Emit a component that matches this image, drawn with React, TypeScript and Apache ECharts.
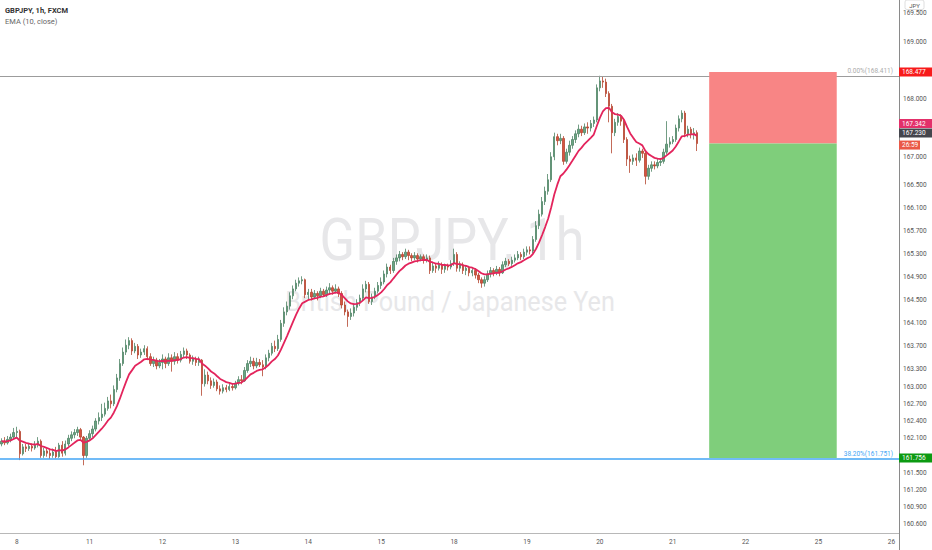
import React, { useEffect, useRef } from "react";
import * as echarts from "echarts";

// ---- hourly candles [open, close, low, high] ----
const day7 = [
  [162.0, 162.05, 161.96, 162.1], [162.05, 162.02, 161.98, 162.12], [162.02, 162.08, 161.99, 162.14],
  [162.08, 162.12, 162.03, 162.18], [162.12, 162.2, 162.08, 162.28],
];
const day8 = [
  [162.2, 162.22, 162.12, 162.3], [162.22, 161.83, 161.72, 162.25], [161.83, 161.95, 161.8, 162.0],
  [161.95, 161.92, 161.86, 162.0], [161.92, 161.96, 161.88, 162.02], [161.96, 161.93, 161.87, 162.01],
  [161.93, 161.98, 161.9, 162.05], [161.98, 162.05, 161.94, 162.12], [162.05, 161.8, 161.76, 162.08],
  [161.8, 161.88, 161.76, 161.93], [161.88, 161.84, 161.78, 161.92], [161.84, 161.8, 161.74, 161.9],
  [161.8, 161.86, 161.76, 161.92], [161.86, 161.78, 161.75, 161.95], [161.78, 161.98, 161.76, 162.02],
  [161.98, 161.84, 161.78, 162.05], [161.84, 162.0, 161.8, 162.06], [162.0, 162.1, 161.96, 162.16],
  [162.1, 162.16, 162.05, 162.22], [162.16, 162.2, 162.1, 162.26], [162.2, 162.25, 162.14, 162.3],
  [162.25, 162.12, 162.08, 162.28], [162.12, 161.8, 161.63, 162.14], [161.8, 162.1, 161.76, 162.14],
];
const day11 = [
  [162.1, 162.18, 162.05, 162.24], [162.18, 162.26, 162.12, 162.32], [162.26, 162.4, 162.22, 162.45],
  [162.4, 162.46, 162.34, 162.55], [162.46, 162.52, 162.4, 162.7], [162.52, 162.62, 162.48, 162.72],
  [162.62, 162.75, 162.58, 162.82], [162.75, 162.7, 162.62, 162.86], [162.7, 162.95, 162.66, 163.02],
  [162.95, 163.15, 162.9, 163.22], [163.15, 163.4, 163.1, 163.48], [163.4, 163.6, 163.36, 163.68],
  [163.6, 163.72, 163.55, 163.82], [163.72, 163.8, 163.65, 163.86], [163.8, 163.62, 163.55, 163.84],
  [163.62, 163.7, 163.58, 163.76], [163.7, 163.55, 163.48, 163.74], [163.55, 163.6, 163.5, 163.66],
  [163.6, 163.66, 163.55, 163.72], [163.66, 163.52, 163.46, 163.7], [163.52, 163.4, 163.36, 163.58],
  [163.4, 163.46, 163.34, 163.52], [163.46, 163.36, 163.3, 163.5], [163.36, 163.42, 163.32, 163.48],
];
const day12 = [
  [163.42, 163.48, 163.3, 163.56], [163.48, 163.4, 163.32, 163.52], [163.4, 163.5, 163.36, 163.58],
  [163.5, 163.44, 163.26, 163.56], [163.44, 163.52, 163.38, 163.6], [163.52, 163.46, 163.4, 163.58],
  [163.46, 163.56, 163.42, 163.62], [163.56, 163.62, 163.5, 163.68], [163.62, 163.55, 163.48, 163.66],
  [163.55, 163.44, 163.4, 163.58], [163.44, 163.48, 163.38, 163.54], [163.48, 163.42, 163.36, 163.52],
  [163.42, 163.46, 163.36, 163.52], [163.46, 163.05, 162.84, 163.48], [163.05, 163.2, 163.0, 163.3],
  [163.2, 163.1, 163.04, 163.26], [163.1, 163.02, 162.96, 163.16], [163.02, 163.08, 162.98, 163.14],
  [163.08, 162.96, 162.92, 163.12], [162.96, 162.92, 162.86, 163.02], [162.92, 162.98, 162.88, 163.04],
  [162.98, 162.95, 162.9, 163.03], [162.95, 163.0, 162.92, 163.06], [163.0, 162.98, 162.93, 163.05],
];
const day13 = [
  [162.98, 163.06, 162.95, 163.1], [163.06, 163.12, 163.02, 163.18], [163.12, 163.1, 163.04, 163.2],
  [163.1, 163.28, 163.08, 163.34], [163.28, 163.4, 163.24, 163.46], [163.4, 163.44, 163.34, 163.52],
  [163.44, 163.36, 163.3, 163.5], [163.36, 163.42, 163.32, 163.5], [163.42, 163.38, 163.34, 163.48],
  [163.38, 163.34, 163.18, 163.46], [163.34, 163.5, 163.3, 163.56], [163.5, 163.58, 163.44, 163.64],
  [163.58, 163.7, 163.54, 163.76], [163.7, 163.66, 163.6, 163.8], [163.66, 163.82, 163.62, 163.9],
  [163.82, 164.1, 163.78, 164.16], [164.1, 164.3, 164.04, 164.38], [164.3, 164.4, 164.24, 164.48],
  [164.4, 164.58, 164.34, 164.64], [164.58, 164.7, 164.52, 164.76], [164.7, 164.8, 164.66, 164.86],
  [164.8, 164.84, 164.74, 164.9], [164.84, 164.86, 164.78, 164.92], [164.86, 164.6, 164.54, 164.88],
];
const day14 = [
  [164.6, 164.64, 164.5, 164.7], [164.64, 164.56, 164.5, 164.7], [164.56, 164.62, 164.52, 164.68],
  [164.62, 164.58, 164.5, 164.66], [164.58, 164.66, 164.54, 164.72], [164.66, 164.6, 164.56, 164.7],
  [164.6, 164.68, 164.56, 164.74], [164.68, 164.72, 164.6, 164.8], [164.72, 164.66, 164.6, 164.76],
  [164.66, 164.7, 164.62, 164.78], [164.7, 164.62, 164.56, 164.74], [164.62, 164.42, 164.36, 164.66],
  [164.42, 164.3, 164.24, 164.48], [164.3, 164.22, 164.04, 164.34], [164.22, 164.28, 164.16, 164.36],
  [164.28, 164.38, 164.22, 164.44], [164.38, 164.46, 164.32, 164.52], [164.46, 164.54, 164.4, 164.6],
  [164.54, 164.7, 164.5, 164.78], [164.7, 164.78, 164.64, 164.84], [164.78, 164.48, 164.44, 164.82],
  [164.48, 164.56, 164.42, 164.62], [164.56, 164.66, 164.52, 164.72], [164.66, 164.76, 164.62, 164.82],
];
const day15 = [
  [164.76, 164.82, 164.7, 164.9], [164.82, 164.96, 164.78, 165.02], [164.96, 165.08, 164.9, 165.14],
  [165.08, 165.02, 164.96, 165.12], [165.02, 165.18, 164.98, 165.24], [165.18, 165.24, 165.12, 165.3],
  [165.24, 165.3, 165.18, 165.36], [165.3, 165.26, 165.2, 165.34], [165.26, 165.34, 165.22, 165.4],
  [165.34, 165.28, 165.2, 165.38], [165.28, 165.24, 165.18, 165.32], [165.24, 165.28, 165.2, 165.34],
  [165.28, 165.22, 165.16, 165.32], [165.22, 165.26, 165.18, 165.3], [165.26, 165.2, 165.14, 165.3],
  [165.2, 165.24, 165.16, 165.3], [165.24, 165.02, 164.96, 165.28], [165.02, 165.1, 164.98, 165.16],
  [165.1, 165.06, 164.98, 165.14], [165.06, 165.12, 165.02, 165.18], [165.12, 165.04, 164.96, 165.16],
  [165.04, 165.1, 164.98, 165.14], [165.1, 165.08, 165.02, 165.14], [165.08, 165.14, 165.04, 165.2],
];
const day18 = [
  [165.14, 165.3, 165.1, 165.4], [165.3, 165.06, 165.0, 165.34], [165.06, 165.12, 165.0, 165.18],
  [165.12, 165.02, 164.96, 165.16], [165.02, 165.06, 164.94, 165.1], [165.06, 164.98, 164.92, 165.1],
  [164.98, 165.02, 164.92, 165.06], [165.02, 164.94, 164.88, 165.06], [164.94, 164.86, 164.8, 164.98],
  [164.86, 164.8, 164.72, 164.9], [164.8, 164.86, 164.74, 164.92], [164.86, 164.96, 164.82, 165.02],
  [164.96, 165.02, 164.9, 165.08], [165.02, 164.98, 164.92, 165.06], [164.98, 165.04, 164.94, 165.1],
  [165.04, 164.98, 164.92, 165.08], [164.98, 165.12, 164.96, 165.18], [165.12, 165.18, 165.08, 165.24],
  [165.18, 165.14, 165.1, 165.22], [165.14, 165.2, 165.1, 165.26], [165.2, 165.24, 165.16, 165.3],
  [165.24, 165.3, 165.2, 165.36], [165.3, 165.26, 165.2, 165.34], [165.26, 165.34, 165.22, 165.4],
];
const day19 = [
  [165.34, 165.38, 165.28, 165.44], [165.38, 165.36, 165.3, 165.44], [165.36, 165.56, 165.32, 165.62],
  [165.56, 165.8, 165.52, 165.88], [165.8, 166.0, 165.74, 166.08], [166.0, 166.22, 165.96, 166.3],
  [166.22, 166.4, 166.16, 166.48], [166.4, 166.6, 166.34, 166.7], [166.6, 167.0, 166.56, 167.08],
  [167.0, 167.35, 166.94, 167.42], [167.35, 167.28, 167.2, 167.4], [167.28, 167.32, 167.22, 167.4],
  [167.32, 166.92, 166.86, 167.36], [166.92, 167.08, 166.88, 167.14], [167.08, 167.2, 167.02, 167.28],
  [167.2, 167.3, 167.14, 167.36], [167.3, 167.4, 167.24, 167.46], [167.4, 167.48, 167.34, 167.56],
  [167.48, 167.42, 167.36, 167.54], [167.42, 167.52, 167.38, 167.58], [167.52, 167.5, 167.4, 167.6],
  [167.5, 167.58, 167.44, 167.64], [167.58, 167.64, 167.52, 167.7], [167.64, 168.2, 167.6, 168.26],
];
const day20 = [
  [168.2, 168.32, 168.14, 168.41], [168.32, 168.3, 168.2, 168.4], [168.3, 168.1, 168.04, 168.36],
  [168.1, 167.88, 167.6, 168.14], [167.88, 167.42, 167.06, 167.92], [167.42, 167.6, 167.36, 167.66],
  [167.6, 167.7, 167.54, 167.76], [167.7, 167.62, 167.54, 167.74], [167.62, 167.3, 167.24, 167.66],
  [167.3, 166.96, 166.84, 167.34], [166.96, 166.92, 166.72, 167.02], [166.92, 166.98, 166.86, 167.04],
  [166.98, 166.94, 166.84, 167.06], [166.94, 167.1, 166.9, 167.16], [167.1, 167.06, 166.98, 167.14],
  [167.06, 166.66, 166.52, 167.1], [166.66, 166.8, 166.6, 166.86], [166.8, 166.86, 166.74, 166.92],
  [166.86, 166.84, 166.78, 166.92], [166.84, 166.9, 166.8, 166.96], [166.9, 166.92, 166.84, 166.98],
  [166.92, 167.08, 166.88, 167.14], [167.08, 167.22, 167.04, 167.62], [167.22, 167.26, 167.16, 167.34],
];
const day21 = [
  [167.26, 167.3, 167.22, 167.36], [167.3, 167.5, 167.26, 167.56], [167.5, 167.66, 167.44, 167.72],
  [167.66, 167.76, 167.6, 167.81], [167.76, 167.4, 167.34, 167.8], [167.4, 167.48, 167.34, 167.54],
  [167.48, 167.4, 167.32, 167.52], [167.4, 167.42, 167.3, 167.5], [167.42, 167.23, 167.1, 167.46],
];

// ---- time axis ----
const leadHours = ["7 19:00", "7 20:00", "7 21:00", "7 22:00", "7 23:00"];
const axisDays = [8, 11, 12, 13, 14, 15, 18, 19, 20, 21, 22, 25];
const tailDay = 26;
const tailHours = 3;

// ---- price axis ----
const priceTicks = [169.5, 169.0, 168.0, 167.0, 166.5, 166.1, 165.7, 165.3, 164.9, 164.5, 164.1, 163.7, 163.3, 163.0, 162.7, 162.4, 162.1, 161.5, 161.2, 160.9, 160.6];
const priceMin = 160.451;
const priceMax = 169.729;

// ---- drawings ----
const fibZero = 168.411;
const fib382 = 161.751;
const stopLoss = 168.477;
const entryPrice = 167.23;
const targetPrice = 161.756;
const positionStart = "21 12:00";
const positionEnd = "25 06:00";
const emaLabel = 167.342;
const countdown = "26:59";
const emaPeriod = 10;

const FONT = "Roboto, 'Liberation Sans', sans-serif";

export default function App() {
  const ref = useRef<HTMLDivElement>(null);

  useEffect(() => {
    if (!ref.current) return;
    const chart = echarts.init(ref.current, null, { renderer: "svg" });

    const hh = (h: number) => String(h).padStart(2, "0") + ":00";
    const categories: string[] = [...leadHours];
    axisDays.forEach((d) => {
      for (let h = 0; h < 24; h++) categories.push(`${d} ${hh(h)}`);
    });
    for (let h = 0; h < tailHours; h++) categories.push(`${tailDay} ${hh(h)}`);

    const candles = [...day7, ...day8, ...day11, ...day12, ...day13, ...day14, ...day15, ...day18, ...day19, ...day20, ...day21];
    const k = 2 / (emaPeriod + 1);
    const ema: number[] = [];
    let prev = 0;
    candles.forEach((c, i) => {
      prev = i === 0 ? c[1] : prev + k * (c[1] - prev);
      ema.push(+prev.toFixed(4));
    });
    const lastClose = candles[candles.length - 1][1];

    const option: any = {
      animation: false,
      grid: { left: 0, right: 33, top: 0, bottom: 17 },
      xAxis: {
        type: "category",
        data: categories,
        boundaryGap: true,
        axisLine: { lineStyle: { color: "#b8b8b8" } },
        axisTick: { show: false },
        splitLine: { show: false },
        axisLabel: {
          interval: (_i: number, v: string) => v.endsWith(" 00:00"),
          formatter: (v: string) => v.split(" ")[0],
          fontSize: 6.5,
          color: "#555",
          margin: 5,
          fontFamily: FONT,
        },
      },
      yAxis: {
        type: "value",
        position: "right",
        min: priceMin,
        max: priceMax,
        axisLine: { show: true, lineStyle: { color: "#8a8a8a" } },
        axisTick: { show: false },
        splitLine: { show: false },
        axisLabel: {
          customValues: priceTicks,
          formatter: (v: number) => v.toFixed(3),
          fontSize: 6.5,
          color: "#555",
          margin: 4,
          fontFamily: FONT,
        },
      },
      series: [
        {
          type: "candlestick",
          data: candles,
          barWidth: "62%",
          z: 2,
          itemStyle: {
            color: "#6ba583",
            color0: "#d75442",
            borderColor: "#4f8466",
            borderColor0: "#b4452f",
            borderWidth: 0.8,
          },
          markLine: {
            silent: true,
            symbol: ["none", "none"],
            z: 4,
            data: [
              {
                yAxis: fibZero,
                lineStyle: { color: "#9c9c9c", width: 1, type: "solid" },
                label: {
                  position: "insideEndTop",
                  formatter: `0.00%(${fibZero.toFixed(3)})`,
                  color: "#ababab",
                  fontSize: 6.5,
                  fontFamily: FONT,
                  distance: [6, 1],
                },
              },
              {
                yAxis: fib382,
                lineStyle: { color: "#42a5f5", width: 1.6, type: "solid" },
                label: {
                  position: "insideEndTop",
                  formatter: `38.20%(${fib382.toFixed(3)})`,
                  color: "#42a5f5",
                  fontSize: 6.5,
                  fontFamily: FONT,
                  distance: [6, 1],
                },
              },
            ],
          },
          markArea: {
            silent: true,
            z: 6,
            data: [
              [
                { xAxis: positionStart, yAxis: stopLoss, itemStyle: { color: "#f88585", opacity: 1 } },
                { xAxis: positionEnd, yAxis: entryPrice },
              ],
              [
                { xAxis: positionStart, yAxis: entryPrice, itemStyle: { color: "#7fce7b", opacity: 1 } },
                { xAxis: positionEnd, yAxis: targetPrice },
              ],
            ],
          },
        },
        {
          type: "line",
          data: ema,
          symbol: "none",
          z: 3,
          lineStyle: { color: "#e3245c", width: 1.8 },
        },
      ],
    };
    chart.setOption(option);

    const py = (v: number) => chart.convertToPixel({ yAxisIndex: 0 }, v) as number;
    const axisX = 899;
    const tag = (cy: number, text: string, bg: string, w = 33) => ({
      type: "group",
      x: axisX,
      y: cy - 4.5,
      z: 20,
      children: [
        { type: "rect", z: 20, shape: { x: 0, y: 0, width: w, height: 9 }, style: { fill: bg } },
        {
          type: "text",
          z: 21,
          x: 3,
          y: 4.7,
          style: { text, fill: "#fff", fontSize: 6.5, fontFamily: FONT, verticalAlign: "middle" },
        },
      ],
    });
    const closeY = py(lastClose);

    chart.setOption({
      graphic: [
        {
          type: "text",
          x: 452,
          y: 240,
          z: 0,
          scaleX: 0.87,
          style: { text: "GBPJPY, 1h", fill: "#e7e7e9", fontSize: 60, fontFamily: FONT, align: "center", verticalAlign: "middle" },
        },
        {
          type: "text",
          x: 450,
          y: 302,
          z: 0,
          scaleX: 0.9,
          style: { text: "British Pound / Japanese Yen", fill: "#e7e7e9", fontSize: 28, fontFamily: FONT, align: "center", verticalAlign: "middle" },
        },
        {
          type: "text",
          x: 5,
          y: 10,
          z: 20,
          style: { text: "GBPJPY, 1h, FXCM", fill: "#333", fontSize: 7.5, fontWeight: "bold", fontFamily: FONT, verticalAlign: "middle" },
        },
        {
          type: "text",
          x: 5,
          y: 21,
          z: 20,
          style: { text: "EMA (10, close)", fill: "#666", fontSize: 7.5, fontFamily: FONT, verticalAlign: "middle" },
        },
        {
          type: "line",
          z: 20,
          shape: { x1: axisX + 0.5, y1: 533, x2: axisX + 0.5, y2: 550 },
          style: { stroke: "#8a8a8a", lineWidth: 1 },
        },
        {
          type: "group",
          x: 905,
          y: 0,
          z: 20,
          children: [
            { type: "rect", z: 20, shape: { x: 0, y: 0, width: 19, height: 9.5, r: 2 }, style: { fill: "#fff", stroke: "#d6d6d6", lineWidth: 0.8 } },
            { type: "text", z: 21, x: 9.5, y: 5, style: { text: "JPY", fill: "#555", fontSize: 6, fontFamily: FONT, align: "center", verticalAlign: "middle" } },
          ],
        },
        tag(py(stopLoss), stopLoss.toFixed(3), "#f71b1b"),
        tag(closeY - 20, emaLabel.toFixed(3), "#e3306a"),
        tag(closeY - 10.5, lastClose.toFixed(3), "#45464d"),
        tag(closeY + 1.5, countdown, "#ea5846", 21),
        tag(py(targetPrice), targetPrice.toFixed(3), "#0c9a12"),
      ],
    });

    return () => chart.dispose();
  }, []);

  return <div ref={ref} style={{ position: "absolute", left: 0, top: 0, width: 932, height: 550 }} />;
}
